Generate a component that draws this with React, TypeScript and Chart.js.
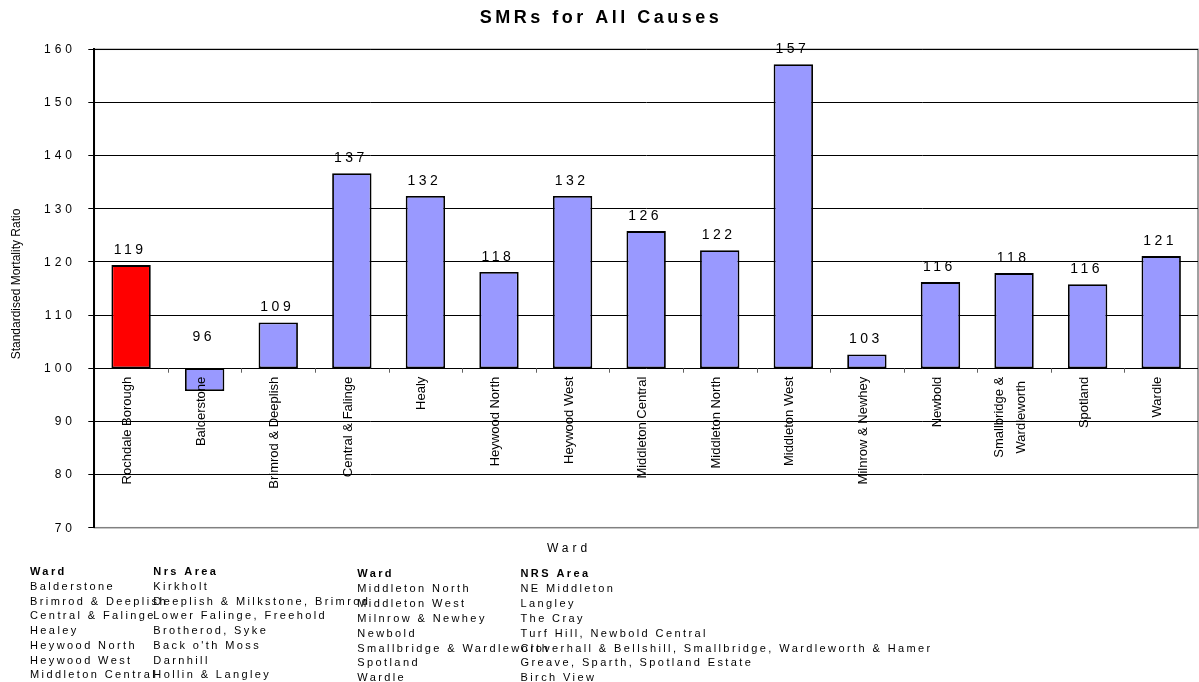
import React, { useEffect, useRef } from "react";
import { Chart, registerables } from "chart.js";

Chart.register(...registerables);

// ---------- data ----------
const chartTitle = "SMRs for All Causes";
const yAxisTitle = "Standardised Mortality Ratio";
const xAxisTitle = "Ward";

const categories: (string | string[])[] = [
  "Rochdale Borough",
  "Balderstone",
  "Brimrod & Deeplish",
  "Central & Falinge",
  "Healy",
  "Heywood North",
  "Heywood West",
  "Middleton Central",
  "Middleton North",
  "Middleton West",
  "Milnrow & Newhey",
  "Newbold",
  ["Smallbridge &", "Wardleworth"],
  "Spotland",
  "Wardle",
];

const smrValues = [
  119.4, 95.7, 108.6, 136.7, 132.4, 118.1, 132.4, 125.8, 122.2, 157.2, 102.6,
  116.2, 117.9, 115.8, 121.1,
];

const baselineValue = 100;
const yMin = 70;
const yMax = 160;
const yStep = 10;
const highlightIndex = 0;

const tableHeadersLeft = ["Ward", "Nrs Area"];
const wardsLeft = [
  "Balderstone",
  "Brimrod & Deeplish",
  "Central & Falinge",
  "Healey",
  "Heywood North",
  "Heywood West",
  "Middleton Central",
];
const areasLeft = [
  "Kirkholt",
  "Deeplish & Milkstone, Brimrod",
  "Lower Falinge, Freehold",
  "Brotherod, Syke",
  "Back o'th Moss",
  "Darnhill",
  "Hollin & Langley",
];

const tableHeadersRight = ["Ward", "NRS Area"];
const wardsRight = [
  "Middleton North",
  "Middleton West",
  "Milnrow & Newhey",
  "Newbold",
  "Smallbridge & Wardleworth",
  "Spotland",
  "Wardle",
];
const areasRight = [
  "NE Middleton",
  "Langley",
  "The Cray",
  "Turf Hill, Newbold Central",
  "Cloverhall & Bellshill, Smallbridge, Wardleworth & Hamer",
  "Greave, Sparth, Spotland Estate",
  "Birch View",
];

// ---------- styles ----------
const FONT = '"Liberation Sans", Arial, Helvetica, sans-serif';
const BAR_BLUE = "#9999FF";
const BAR_RED = "#FF0000";

function spaced(ctx: CanvasRenderingContext2D, px: number) {
  (ctx as any).letterSpacing = `${px}px`;
}

export default function App() {
  const canvasRef = useRef<HTMLCanvasElement>(null);

  useEffect(() => {
    const canvas = canvasRef.current;
    if (!canvas) return;

    const overlay = {
      id: "overlay",
      beforeDraw(chart: any) {
        const { ctx, chartArea: a } = chart;
        ctx.save();
        ctx.fillStyle = "#ffffff";
        ctx.fillRect(0, 0, chart.width, chart.height);
        ctx.strokeStyle = "#808080";
        ctx.lineWidth = 1.5;
        ctx.strokeRect(a.left, a.top, a.right - a.left, a.bottom - a.top);
        ctx.restore();
      },
      afterDatasetsDraw(chart: any) {
        const { ctx } = chart;
        const xs = chart.scales.x;
        const ys = chart.scales.y;
        const y100 = ys.getPixelForValue(baselineValue);
        ctx.save();

        // small tick marks between categories on the 100 line
        ctx.strokeStyle = "#606060";
        ctx.lineWidth = 1;
        for (let i = 1; i < categories.length; i++) {
          const x = Math.round((xs.getPixelForValue(i - 1) + xs.getPixelForValue(i)) / 2) + 0.5;
          ctx.beginPath();
          ctx.moveTo(x, y100);
          ctx.lineTo(x, y100 + 4.5);
          ctx.stroke();
        }

        // data labels
        const meta = chart.getDatasetMeta(0);
        ctx.fillStyle = "#000";
        ctx.font = `14px ${FONT}`;
        spaced(ctx, 3.5);
        ctx.textAlign = "center";
        ctx.textBaseline = "middle";
        meta.data.forEach((bar: any, i: number) => {
          const v = smrValues[i];
          const top = Math.min(bar.y, bar.base);
          const ly = v >= baselineValue ? top - 15 : y100 - 31;
          ctx.fillText(String(Math.round(v)), bar.x - 1, ly);
        });

        // category labels (rotated, starting just below the 100 line)
        spaced(ctx, 0);
        ctx.font = `13px ${FONT}`;
        categories.forEach((cat, i) => {
          const lines = Array.isArray(cat) ? cat : [cat];
          const cx = xs.getPixelForValue(i) - 3.5;
          const widths = lines.map((l) => ctx.measureText(l).width);
          const maxW = Math.max(...widths);
          const lh = 22;
          lines.forEach((line, j) => {
            const off = (j - (lines.length - 1) / 2) * lh;
            const start = y100 + 8.5 + (maxW - widths[j]) / 2;
            ctx.save();
            ctx.translate(cx + off, start);
            ctx.rotate(-Math.PI / 2);
            ctx.textAlign = "right";
            ctx.textBaseline = "middle";
            ctx.fillText(line, 0, 0);
            ctx.restore();
          });
        });
        ctx.restore();
      },
      afterDraw(chart: any) {
        const { ctx, chartArea: a } = chart;
        const ys = chart.scales.y;
        ctx.save();
        ctx.fillStyle = "#000";

        // y tick labels
        ctx.font = `12px ${FONT}`;
        spaced(ctx, 4);
        ctx.textAlign = "right";
        ctx.textBaseline = "middle";
        ys.ticks.forEach((t: any) => {
          const y = ys.getPixelForValue(t.value);
          ctx.fillText(String(t.value), 72 + 4, y + 0.5);
        });

        // title
        ctx.font = `bold 18px ${FONT}`;
        spaced(ctx, 3.5);
        ctx.textAlign = "center";
        ctx.textBaseline = "middle";
        ctx.fillText(chartTitle, chart.width / 2 + 1.5, 18.5);

        // x axis title
        ctx.font = `12px ${FONT}`;
        spaced(ctx, 4);
        ctx.fillText(xAxisTitle, 569, 548.5);

        // y axis title
        spaced(ctx, 0);
        ctx.save();
        ctx.translate(17, (a.top + a.bottom) / 2 - 4.5);
        ctx.rotate(-Math.PI / 2);
        ctx.font = `12px ${FONT}`;
        ctx.textAlign = "center";
        ctx.textBaseline = "middle";
        ctx.fillText(yAxisTitle, 0, 0);
        ctx.restore();

        // ward / area table
        const drawTable = (
          headers: string[],
          wards: string[],
          areas: string[],
          x1: number,
          x2: number,
          y0: number,
          step: number
        ) => {
          ctx.textAlign = "left";
          ctx.textBaseline = "alphabetic";
          spaced(ctx, 2.4);
          ctx.font = `bold 11px ${FONT}`;
          ctx.fillText(headers[0], x1, y0);
          ctx.fillText(headers[1], x2, y0);
          ctx.font = `11px ${FONT}`;
          wards.forEach((w, i) => ctx.fillText(w, x1, y0 + step * (i + 1)));
          areas.forEach((ar, i) => ctx.fillText(ar, x2, y0 + step * (i + 1)));
        };
        drawTable(tableHeadersLeft, wardsLeft, areasLeft, 30, 153.3, 575.3, 14.72);
        drawTable(tableHeadersRight, wardsRight, areasRight, 357.3, 520.5, 577, 14.9);

        ctx.restore();
      },
    };

    const chart = new Chart(canvas, {
      type: "bar",
      data: {
        labels: categories as any,
        datasets: [
          {
            data: smrValues.map((v) => [baselineValue, v]) as any,
            backgroundColor: smrValues.map((_, i) => (i === highlightIndex ? BAR_RED : BAR_BLUE)),
            borderColor: "#000000",
            borderWidth: 1.8,
            borderSkipped: false,
            barPercentage: 0.535,
            categoryPercentage: 1,
          },
        ],
      },
      options: {
        responsive: false,
        devicePixelRatio: 1,
        animation: false,
        events: [],
        layout: { padding: { top: 49.3, right: 1, bottom: 154.3, left: 0 } },
        plugins: {
          legend: { display: false },
          tooltip: { enabled: false },
          title: { display: false },
        },
        scales: {
          x: {
            display: false,
            offset: true,
          },
          y: {
            min: yMin,
            max: yMax,
            ticks: { stepSize: yStep, display: false },
            grid: {
              color: (c: any) => (c.tick && c.tick.value === yMin ? "#808080" : "#000000"),
              lineWidth: 1,
              drawTicks: true,
              tickLength: 6,
              tickColor: "#000000",
            },
            border: { display: true, color: "#000000", width: 2 },
            afterFit: (scale: any) => {
              scale.width = 94.3;
            },
          },
        },
      },
      plugins: [overlay],
    });

    return () => chart.destroy();
  }, []);

  return (
    <div style={{ position: "fixed", left: 0, top: 0, width: 1199, height: 682, background: "#fff" }}>
      <canvas ref={canvasRef} width={1199} height={682} style={{ display: "block" }} />
    </div>
  );
}
